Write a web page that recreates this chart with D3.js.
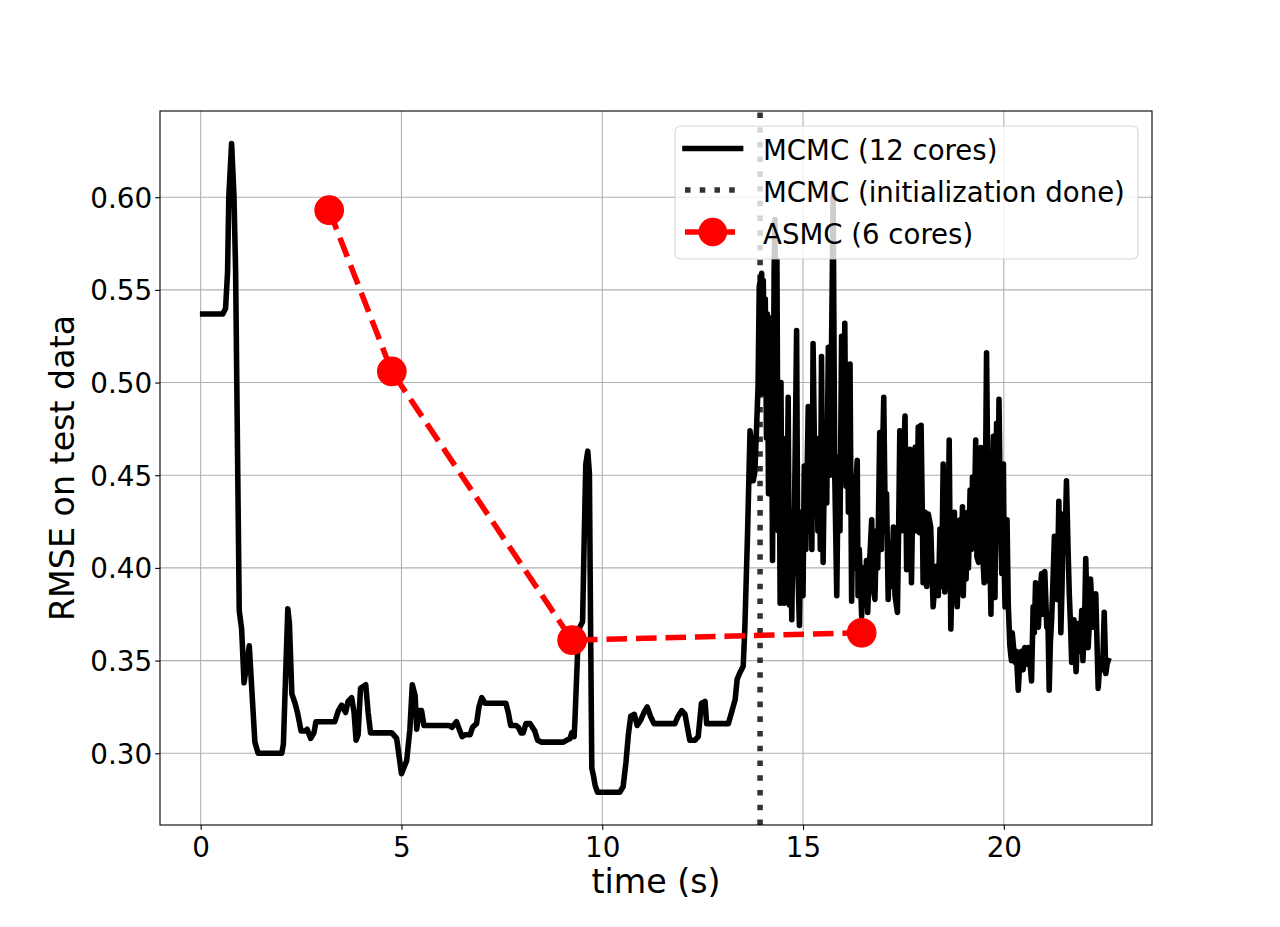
<!doctype html>
<html>
<head>
<meta charset="utf-8">
<script src="https://cdn.jsdelivr.net/npm/d3@7"></script>
<style>
  body { margin: 0; background: #fff; }
  svg text { font-family: "DejaVu Sans", sans-serif; fill: #000; }
</style>
</head>
<body>
<script>
// MCMC run: [time (s), RMSE]
var mcmcPoints = [
  [0.05,0.537],[0.55,0.537],[0.62,0.540],[0.67,0.560],[0.70,0.600],[0.77,0.629],[0.83,0.600],[0.87,0.560],
  [0.96,0.377],[1.02,0.367],[1.08,0.338],[1.21,0.358],[1.35,0.306],[1.43,0.300],[2.02,0.300],[2.06,0.305],
  [2.10,0.332],[2.17,0.378],[2.21,0.370],[2.27,0.332],[2.35,0.327],[2.41,0.322],[2.50,0.312],[2.60,0.312],
  [2.65,0.313],[2.74,0.308],[2.82,0.311],[2.87,0.317],[3.34,0.317],[3.43,0.323],[3.51,0.326],[3.61,0.322],
  [3.67,0.328],[3.76,0.330],[3.82,0.322],[3.87,0.307],[3.92,0.310],[3.98,0.335],[4.11,0.337],[4.17,0.322],
  [4.23,0.311],[4.76,0.311],[4.88,0.308],[4.95,0.297],[5.00,0.289],[5.13,0.296],[5.21,0.313],[5.27,0.337],
  [5.34,0.331],[5.38,0.313],[5.44,0.323],[5.50,0.323],[5.56,0.315],[6.19,0.315],[6.26,0.314],[6.37,0.317],
  [6.44,0.313],[6.51,0.309],[6.58,0.310],[6.71,0.310],[6.77,0.314],[6.87,0.316],[6.93,0.325],[7.00,0.330],
  [7.08,0.327],[7.60,0.327],[7.66,0.322],[7.72,0.315],[7.85,0.315],[7.91,0.314],[7.98,0.311],[8.03,0.311],
  [8.10,0.316],[8.20,0.316],[8.32,0.312],[8.39,0.307],[8.49,0.306],[9.03,0.306],[9.11,0.307],[9.20,0.308],
  [9.24,0.311],[9.30,0.309],[9.32,0.318],[9.36,0.340],[9.40,0.362],[9.44,0.368],[9.51,0.371],[9.55,0.415],
  [9.59,0.456],[9.64,0.463],[9.68,0.451],[9.71,0.367],[9.74,0.292],[9.78,0.288],[9.82,0.283],[9.88,0.279],
  [10.44,0.279],[10.52,0.282],[10.59,0.295],[10.65,0.310],[10.71,0.320],[10.80,0.321],[10.87,0.315],[10.96,0.318],
  [11.04,0.322],[11.12,0.325],[11.20,0.320],[11.29,0.316],[11.81,0.316],[11.89,0.320],[11.98,0.323],[12.06,0.321],
  [12.12,0.314],[12.18,0.307],[12.31,0.307],[12.39,0.309],[12.47,0.327],[12.56,0.328],[12.60,0.316],[13.14,0.316],
  [13.22,0.322],[13.31,0.329],[13.36,0.340],[13.44,0.344],[13.51,0.347],[13.55,0.367],[13.62,0.420],[13.68,0.474],
  [13.73,0.465],[13.76,0.447],[13.80,0.452],[13.84,0.474],[13.88,0.498],[13.91,0.552],[13.97,0.559],
  [13.99,0.494],[14.01,0.555],[14.04,0.500],[14.06,0.545],[14.09,0.470],[14.11,0.537],[14.14,0.440],[14.16,0.535],
  [14.19,0.460],[14.21,0.520],[14.24,0.404],[14.28,0.560],[14.30,0.588],[14.33,0.450],[14.35,0.566],[14.38,0.420],
  [14.40,0.490],[14.43,0.381],[14.45,0.500],[14.48,0.400],[14.50,0.470],[14.53,0.381],[14.56,0.450],[14.59,0.400],
  [14.63,0.492],[14.66,0.380],[14.69,0.430],[14.72,0.372],[14.75,0.420],[14.77,0.400],[14.84,0.528],[14.87,0.400],
  [14.91,0.369],[14.95,0.430],[14.97,0.390],[15.00,0.385],[15.03,0.455],[15.07,0.410],[15.13,0.487],[15.16,0.420],
  [15.20,0.460],[15.22,0.410],[15.25,0.521],[15.30,0.440],[15.33,0.470],[15.37,0.420],[15.41,0.450],[15.43,0.410],
  [15.46,0.514],[15.50,0.403],[15.54,0.470],[15.59,0.435],[15.63,0.519],[15.67,0.450],[15.71,0.520],[15.75,0.601],
  [15.79,0.450],[15.84,0.385],[15.88,0.460],[15.92,0.420],[15.96,0.525],[16.01,0.450],[16.04,0.532],[16.07,0.444],
  [16.10,0.490],[16.13,0.430],[16.17,0.510],[16.21,0.382],[16.24,0.430],[16.28,0.400],[16.30,0.440],[16.35,0.458],
  [16.37,0.385],[16.40,0.410],[16.46,0.374],[16.49,0.400],[16.53,0.380],[16.58,0.404],[16.61,0.376],[16.65,0.400],
  [16.71,0.426],[16.74,0.390],[16.79,0.383],[16.83,0.420],[16.86,0.400],[16.91,0.473],[16.95,0.410],[16.97,0.450],
  [17.01,0.492],[17.05,0.420],[17.08,0.440],[17.12,0.383],[17.16,0.410],[17.20,0.390],[17.25,0.422],[17.29,0.385],
  [17.35,0.376],[17.38,0.420],[17.41,0.474],[17.45,0.420],[17.49,0.450],[17.54,0.482],[17.58,0.399],[17.62,0.430],
  [17.66,0.464],[17.70,0.392],[17.75,0.460],[17.79,0.465],[17.82,0.420],[17.87,0.476],[17.90,0.419],[17.94,0.477],
  [17.97,0.430],[17.99,0.392],[18.04,0.430],[18.08,0.390],[18.12,0.429],[18.18,0.422],[18.21,0.400],[18.24,0.379],
  [18.28,0.390],[18.33,0.401],[18.37,0.385],[18.41,0.421],[18.45,0.390],[18.49,0.456],[18.53,0.387],[18.57,0.410],
  [18.60,0.400],[18.64,0.469],[18.68,0.367],[18.72,0.400],[18.77,0.430],[18.80,0.390],[18.84,0.379],[18.87,0.400],
  [18.91,0.426],[18.93,0.390],[18.97,0.433],[18.99,0.385],[19.03,0.425],[19.06,0.394],[19.10,0.430],[19.12,0.400],
  [19.16,0.442],[19.19,0.410],[19.22,0.449],[19.26,0.420],[19.30,0.469],[19.33,0.406],[19.37,0.403],[19.40,0.430],
  [19.43,0.465],[19.47,0.410],[19.51,0.392],[19.54,0.440],[19.57,0.516],[19.61,0.430],[19.63,0.393],[19.65,0.410],
  [19.68,0.375],[19.70,0.420],[19.74,0.471],[19.76,0.420],[19.78,0.384],[19.80,0.440],[19.82,0.478],[19.85,0.430],
  [19.88,0.491],[19.92,0.420],[19.95,0.397],[19.97,0.430],[19.99,0.456],[20.01,0.400],[20.03,0.379],[20.05,0.400],
  [20.08,0.426],[20.11,0.381],[20.15,0.358],[20.19,0.350],[20.21,0.365],[20.25,0.355],[20.28,0.349],[20.31,0.355],
  [20.36,0.334],[20.40,0.350],[20.44,0.355],[20.48,0.345],[20.52,0.357],[20.56,0.348],[20.61,0.357],[20.65,0.350],
  [20.69,0.339],[20.73,0.379],[20.76,0.365],[20.79,0.392],[20.82,0.370],[20.86,0.368],[20.90,0.385],[20.94,0.397],
  [20.97,0.375],[21.02,0.398],[21.07,0.368],[21.10,0.370],[21.13,0.334],[21.16,0.360],[21.19,0.372],[21.22,0.390],
  [21.26,0.417],[21.29,0.390],[21.32,0.383],[21.35,0.410],[21.37,0.436],[21.40,0.400],[21.42,0.365],[21.45,0.390],
  [21.48,0.429],[21.52,0.410],[21.56,0.447],[21.60,0.410],[21.63,0.386],[21.66,0.370],[21.69,0.349],[21.72,0.360],
  [21.75,0.372],[21.77,0.355],[21.80,0.344],[21.83,0.360],[21.85,0.370],[21.90,0.355],[21.94,0.377],[21.97,0.350],
  [22.01,0.370],[22.04,0.405],[22.07,0.380],[22.10,0.357],[22.13,0.370],[22.16,0.394],[22.19,0.380],[22.22,0.368],
  [22.26,0.375],[22.29,0.386],[22.32,0.360],[22.35,0.335],[22.38,0.345],[22.42,0.350],[22.46,0.345],[22.50,0.376],
  [22.52,0.360],[22.54,0.343],[22.57,0.348],[22.60,0.350]
];

// ASMC run
var asmcTime = [3.20, 4.76, 9.25, 16.46];
var asmcRmse = [0.593, 0.506, 0.361, 0.365];

// MCMC initialization finished at
var initDoneTime = 13.93;

var xTicks = [0, 5, 10, 15, 20];
var yTicks = [0.30, 0.35, 0.40, 0.45, 0.50, 0.55, 0.60];
var seriesNames = ["MCMC (12 cores)", "MCMC (initialization done)", "ASMC (6 cores)"];

var width = 1280, height = 927;
var marginLeft = 160, marginTop = 111;
var w = 992, h = 714;
var lw = 5.56;   // 4pt lines

var x = d3.scaleLinear().domain([-1.013, 23.69]).range([0, w]);
var y = d3.scaleLinear().domain([0.2613, 0.6465]).range([h, 0]);

var svg = d3.select("body").append("svg")
    .attr("width", width)
    .attr("height", height);

svg.append("rect").attr("width", width).attr("height", height).attr("fill", "#fff");

svg.append("defs").append("clipPath").attr("id", "plotArea")
  .append("rect").attr("width", w).attr("height", h);

var g = svg.append("g").attr("transform", "translate(" + marginLeft + "," + marginTop + ")");

// grid
g.append("g").selectAll("line").data(xTicks).enter().append("line")
    .attr("x1", function(d){ return x(d); }).attr("x2", function(d){ return x(d); })
    .attr("y1", 0).attr("y2", h)
    .attr("stroke", "#b0b0b0").attr("stroke-width", 1.1);
g.append("g").selectAll("line").data(yTicks).enter().append("line")
    .attr("y1", function(d){ return y(d); }).attr("y2", function(d){ return y(d); })
    .attr("x1", 0).attr("x2", w)
    .attr("stroke", "#b0b0b0").attr("stroke-width", 1.1);

var plot = g.append("g").attr("clip-path", "url(#plotArea)");

// MCMC line
var line = d3.line()
    .x(function(d){ return x(d[0]); })
    .y(function(d){ return y(d[1]); });

plot.append("path")
    .datum(mcmcPoints)
    .attr("d", line)
    .attr("fill", "none")
    .attr("stroke", "#000")
    .attr("stroke-width", lw)
    .attr("stroke-linejoin", "round")
    .attr("stroke-linecap", "square");

// initialization done
plot.append("line")
    .attr("x1", x(initDoneTime)).attr("x2", x(initDoneTime))
    .attr("y1", h).attr("y2", 0)
    .attr("stroke", "rgba(0,0,0,0.8)")
    .attr("stroke-width", lw)
    .attr("stroke-dasharray", "5.56,9.17");

// ASMC
var asmc = asmcTime.map(function(t, i){ return [t, asmcRmse[i]]; });
plot.append("path")
    .datum(asmc)
    .attr("d", line)
    .attr("fill", "none")
    .attr("stroke", "red")
    .attr("stroke-width", lw)
    .attr("stroke-dasharray", "20.6,8.9");
plot.selectAll("circle.asmc").data(asmc).enter().append("circle")
    .attr("class", "asmc")
    .attr("cx", function(d){ return x(d[0]); })
    .attr("cy", function(d){ return y(d[1]); })
    .attr("r", 14.3)
    .attr("fill", "red")
    .attr("stroke", "red")
    .attr("stroke-width", 1.1);

// axes
var xAxis = g.append("g").attr("transform", "translate(0," + h + ")")
    .call(d3.axisBottom(x).tickValues(xTicks).tickSize(4.86).tickPadding(4.86).tickFormat(d3.format("d")));
xAxis.selectAll("text").attr("dy", "0.81em").style("font-size", "27.8px");

var yAxis = g.append("g")
    .call(d3.axisLeft(y).tickValues(yTicks).tickSize(4.86).tickPadding(3).tickFormat(d3.format(".2f")));
yAxis.selectAll("text").attr("dy", "0.36em").style("font-size", "27.8px");

[xAxis, yAxis].forEach(function(a){
  a.select(".domain").remove();
  a.selectAll(".tick line").attr("stroke", "#000").attr("stroke-width", 1.1);
  a.selectAll("text").attr("fill", "#000").style("font-family", "DejaVu Sans");
});

// frame
g.append("rect")
    .attr("width", w).attr("height", h)
    .attr("fill", "none").attr("stroke", "#000").attr("stroke-width", 1.1);

// axis labels
svg.append("text")
    .attr("x", marginLeft + w / 2).attr("y", 893)
    .attr("text-anchor", "middle")
    .style("font-size", "33.3px")
    .text("time (s)");

svg.append("text")
    .attr("transform", "translate(74," + (marginTop + h / 2) + ") rotate(-90)")
    .attr("text-anchor", "middle")
    .style("font-size", "33.3px")
    .text("RMSE on test data");

// legend
var legend = svg.append("g").attr("transform", "translate(675,126)");
legend.append("rect")
    .attr("width", 463).attr("height", 133)
    .attr("rx", 5.5).attr("ry", 5.5)
    .attr("fill", "rgba(255,255,255,0.8)")
    .attr("stroke", "rgba(204,204,204,0.8)")
    .attr("stroke-width", 1.1);

var rowY = [22.5, 64, 106];
var hx1 = 10, hx2 = 65.6;

legend.append("line")
    .attr("x1", hx1).attr("x2", hx2).attr("y1", rowY[0]).attr("y2", rowY[0])
    .attr("stroke", "#000").attr("stroke-width", lw).attr("stroke-linecap", "square");

legend.append("line")
    .attr("x1", hx1).attr("x2", hx2).attr("y1", rowY[1]).attr("y2", rowY[1])
    .attr("stroke", "rgba(0,0,0,0.8)").attr("stroke-width", lw)
    .attr("stroke-dasharray", "5.56,9.17");

legend.append("line")
    .attr("x1", hx1).attr("x2", hx2).attr("y1", rowY[2]).attr("y2", rowY[2])
    .attr("stroke", "red").attr("stroke-width", lw)
    .attr("stroke-dasharray", "20.6,8.9");
legend.append("circle")
    .attr("cx", (hx1 + hx2) / 2).attr("cy", rowY[2]).attr("r", 14.3)
    .attr("fill", "red");

legend.selectAll("text.lab").data(seriesNames).enter().append("text")
    .attr("class", "lab")
    .attr("x", 88)
    .attr("y", function(d, i){ return rowY[i] + 11.5; })
    .style("font-size", "27.6px")
    .text(function(d){ return d; });
</script>
</body>
</html>
